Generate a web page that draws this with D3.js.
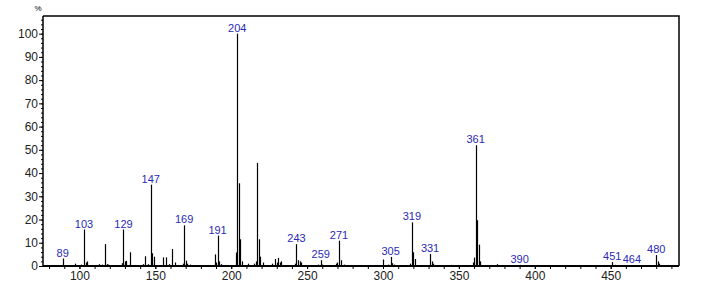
<!DOCTYPE html>
<html>
<head>
<meta charset="utf-8">
<script src="https://cdn.jsdelivr.net/npm/d3@7"></script>
<style>
  body { margin: 0; background: #fff; }
  text { font-family: "Liberation Sans", Arial, sans-serif; }
</style>
</head>
<body>
<svg width="705" height="283"></svg>
<script>
// m/z of each line and its relative abundance (%)
const mzValues = [89, 97, 101, 103, 104, 105, 113, 115, 117, 118, 119, 128, 129, 130, 131, 133,
  142, 143, 145, 147, 148, 149, 155, 157, 159, 161, 163, 168, 169, 170, 171, 173,
  189, 190, 191, 192, 193, 203, 204, 205, 206, 207, 211, 215, 216, 217, 218, 219, 221,
  227, 229, 230, 231, 232, 233, 242, 243, 244, 245, 246, 257, 259, 260, 269, 270, 271, 272, 274,
  300, 303, 305, 306, 307, 318, 319, 320, 321, 331, 332, 333, 345, 359, 360, 361, 362, 363, 364,
  375, 390, 451, 453, 464, 480, 481, 482];
const abundance = [3.2, 1, 0.6, 15.7, 1.5, 2, 0.8, 0.6, 9.4, 0.8, 0.6, 1.2, 15.7, 2, 2.2, 5.9,
  0.8, 4.2, 0.8, 35, 5.5, 4, 3.7, 3.7, 0.8, 7.3, 1.5, 1, 17.5, 2.3, 1, 0.6,
  5, 1.5, 13.1, 2, 0.8, 5.8, 100, 35.6, 11.5, 2, 1, 1, 2, 44.4, 11.5, 4, 1.5,
  1, 3, 1.5, 3.5, 1.5, 2, 1, 9.4, 2.5, 2, 1.5, 0.6, 2.5, 0.6, 1, 1.5, 10.9, 2.5, 0.6,
  2.8, 0.6, 3.9, 1.2, 0.6, 1, 18.8, 5.9, 3, 5.2, 2, 1, 0.5, 1.5, 3.6, 52, 19.7, 9.2, 2,
  0.8, 0.5, 1.7, 0.5, 0.3, 4.7, 2, 1];
// peaks that carry an m/z label
const labelledMz = [89, 103, 129, 147, 169, 191, 204, 243, 259, 271, 305, 319, 331, 361, 390, 451, 464, 480];
const yTickValues = [0, 10, 20, 30, 40, 50, 60, 70, 80, 90, 100];
const xTickValues = [100, 150, 200, 250, 300, 350, 400, 450];

const peaks = mzValues.map((m, i) => ({mz: m, pct: abundance[i]}));

const svg = d3.select('svg'),
    width = +svg.attr('width'),
    height = +svg.attr('height');
const margin = {top: 16, right: 26, bottom: 17, left: 43};

const x = d3.scaleLinear().domain([76, 495]).range([margin.left, width - margin.right]);
const y = d3.scaleLinear().domain([0, 107.6]).range([height - margin.bottom, margin.top]);

// frame: top and right
svg.append('path')
    .attr('d', 'M' + margin.left + ',' + margin.top + 'H' + (width - margin.right) + 'V' + (height - margin.bottom))
    .attr('fill', 'none').attr('stroke', '#000').attr('stroke-width', 1.5);

// y axis, minor ticks every 2 %
const yAxisMinor = d3.axisLeft(y).tickValues(d3.range(0, 107, 2)).tickSize(2).tickFormat('');
const yAxisMajor = d3.axisLeft(y).tickValues(yTickValues).tickSize(4).tickPadding(1);
const yg = svg.append('g').attr('transform', 'translate(' + margin.left + ',0)');
yg.call(yAxisMinor);
yg.append('g').call(yAxisMajor);
yg.selectAll('.domain').remove();
yg.append('line').attr('x1', 0).attr('x2', 0).attr('y1', margin.top).attr('y2', height - margin.bottom)
    .attr('stroke', '#000').attr('stroke-width', 1.5);

// x axis, minor ticks every 10
const xAxisMinor = d3.axisBottom(x).tickValues(d3.range(80, 495, 10)).tickSize(3).tickFormat('');
const xAxisMajor = d3.axisBottom(x).tickValues(xTickValues).tickSize(3).tickPadding(2);
const xg = svg.append('g').attr('transform', 'translate(0,' + (height - margin.bottom) + ')');
xg.call(xAxisMinor);
xg.append('g').call(xAxisMajor);
xg.selectAll('.domain').remove();
xg.append('line').attr('x1', margin.left).attr('x2', width - margin.right).attr('y1', 0).attr('y2', 0)
    .attr('stroke', '#000').attr('stroke-width', 2);

svg.selectAll('.tick text').attr('font-size', 12).attr('fill', '#222')
    .attr('font-family', '"Liberation Sans", Arial, sans-serif');
svg.selectAll('.tick line').attr('stroke', '#000');

svg.append('text').attr('x', margin.left - 5).attr('y', 11)
    .attr('font-size', 8).attr('text-anchor', 'middle').text('%');

// spectrum lines
svg.append('g').selectAll('line')
    .data(peaks)
    .enter().append('line')
    .attr('x1', d => Math.round(x(d.mz)) + 0.5)
    .attr('x2', d => Math.round(x(d.mz)) + 0.5)
    .attr('y1', y(0))
    .attr('y2', d => y(d.pct))
    .attr('stroke', '#000')
    .attr('stroke-width', 1.2);

// peak labels
svg.append('g').selectAll('text')
    .data(peaks.filter(d => labelledMz.includes(d.mz)))
    .enter().append('text')
    .attr('x', d => x(d.mz))
    .attr('y', d => y(d.pct) - 2)
    .attr('text-anchor', 'middle')
    .attr('font-size', 11)
    .attr('fill', '#2a2ab8')
    .text(d => d.mz);
</script>
</body>
</html>
